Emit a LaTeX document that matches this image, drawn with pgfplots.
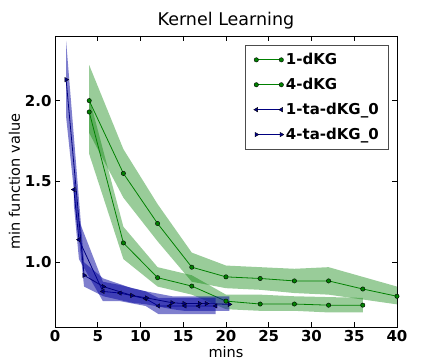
\documentclass[border=0pt]{standalone}
\usepackage{fontspec}
\setmainfont{DejaVu Sans}
\usepackage{pgfplots}
\pgfplotsset{compat=1.18}
\definecolor{mgreen}{rgb}{0,0.5,0}
\definecolor{mnavy}{rgb}{0,0,0.5}
\definecolor{bfill}{rgb}{0,0,0.62}
\begin{document}
\begin{tikzpicture}
\begin{axis}[
  scale only axis, width=342pt, height=291pt,
  xmin=0, xmax=40, ymin=0.6, ymax=2.4,
  xtick={0,5,...,40}, ytick={1.0,1.5,2.0},
  yticklabel style={/pgf/number format/.cd, fixed, fixed zerofill, precision=1},
  /pgf/number format/assume math mode=true,
  ticklabel style={font=\fontsize{15}{17}\selectfont\bfseries},
  tick align=inside, major tick length=5pt,
  tick style={black, line width=0.8pt},
  axis line style={line width=0.9pt},
  title={Kernel Learning}, title style={font=\fontsize{17.5}{20}\selectfont, yshift=-3pt},
  xlabel={mins}, ylabel={min function value},
  label style={font=\fontsize{14.5}{17}\selectfont},
  xlabel style={yshift=2pt}, ylabel style={yshift=-2pt},
  clip=false,
  legend style={at={(0.977,0.969)}, anchor=north east, draw=black!70, line width=0.8pt,
    font=\fontsize{15}{17}\selectfont\bfseries, row sep=8pt, inner xsep=8pt, inner ysep=6pt},
  legend cell align=left,
  legend image code/.code={\draw[#1] plot coordinates {(0pt,0pt) (25pt,0pt)};},
]
% bands
\addplot[fill=mgreen, fill opacity=0.4, draw=none, forget plot] coordinates {
 (4,2.22) (8,1.70) (12,1.36) (16,1.06) (20,0.98) (24,0.97) (28,0.96) (32,0.97) (36,0.91) (40,0.85)
 (40,0.74) (36,0.77) (32,0.80) (28,0.81) (24,0.83) (20,0.84) (16,0.88) (12,1.13) (8,1.40) (4,1.80)} -- cycle;
\addplot[mgreen, line width=0.8pt, mark=*, mark size=2.2pt, mark options={fill=mgreen, draw=black, line width=0.4pt}] coordinates {
 (4,2.00) (8,1.55) (12,1.24) (16,0.97) (20,0.91) (24,0.90) (28,0.885) (32,0.885) (36,0.835) (40,0.79)};
\addlegendentry{1-dKG}
\addplot[fill=mgreen, fill opacity=0.4, draw=none, forget plot] coordinates {
 (4,2.02) (8,1.22) (12,0.97) (16,0.92) (20,0.80) (24,0.80) (28,0.79) (32,0.785) (36,0.78)
 (36,0.69) (32,0.69) (28,0.70) (24,0.70) (20,0.71) (16,0.80) (12,0.85) (8,1.02) (4,1.67)} -- cycle;
\addplot[mgreen, line width=0.8pt, mark=*, mark size=2.2pt, mark options={fill=mgreen, draw=black, line width=0.4pt}] coordinates {
 (4,1.93) (8,1.12) (12,0.905) (16,0.853) (20,0.76) (24,0.742) (28,0.742) (32,0.735) (36,0.735)};
\addlegendentry{4-dKG}
\addplot[fill=bfill, fill opacity=0.5, draw=none, forget plot] coordinates {
 (2.2,1.55) (2.8,1.26) (5.6,0.88) (7.6,0.86) (10.6,0.82) (12.1,0.78) (13.4,0.78) (15.2,0.78) (16.8,0.78) (18.8,0.78)
 (18.8,0.68) (16.8,0.68) (15.2,0.68) (13.4,0.68) (12.1,0.68) (10.6,0.73) (7.6,0.76) (5.6,0.76) (2.8,1.02) (2.2,1.36)} -- cycle;
\addplot[mnavy, line width=0.8pt, mark=triangle*, mark size=2.6pt, mark options={rotate=90, fill=mnavy, draw=black, line width=0.3pt}] coordinates {
 (2.2,1.45) (2.8,1.14) (5.6,0.82) (7.6,0.81) (10.6,0.775) (12.1,0.73) (13.4,0.73) (15.2,0.73) (16.8,0.73) (18.8,0.73)};
\addlegendentry{1-ta-dKG\_0}
\addplot[fill=bfill, fill opacity=0.5, draw=none, forget plot] coordinates {
 (1.3,2.37) (3.4,1.00) (5.65,0.90) (9.0,0.84) (10.7,0.82) (13.7,0.79) (15.1,0.79) (16.9,0.79) (17.7,0.79) (20.4,0.79)
 (20.4,0.70) (17.7,0.70) (16.9,0.70) (15.1,0.70) (13.7,0.71) (10.7,0.74) (9.0,0.75) (5.65,0.79) (3.4,0.85) (1.3,1.90)} -- cycle;
\addplot[mnavy, line width=0.8pt, mark=triangle*, mark size=2.6pt, mark options={rotate=-90, fill=mnavy, draw=black, line width=0.3pt}] coordinates {
 (1.3,2.13) (3.4,0.92) (5.65,0.85) (9.0,0.795) (10.7,0.78) (13.7,0.75) (15.1,0.745) (16.9,0.745) (17.7,0.745) (20.4,0.74)};
\addlegendentry{4-ta-dKG\_0}
\path (rel axis cs:-0.1608,-0.1271) rectangle (rel axis cs:1.1287,1.1237);
\end{axis}
\end{tikzpicture}
\end{document}
